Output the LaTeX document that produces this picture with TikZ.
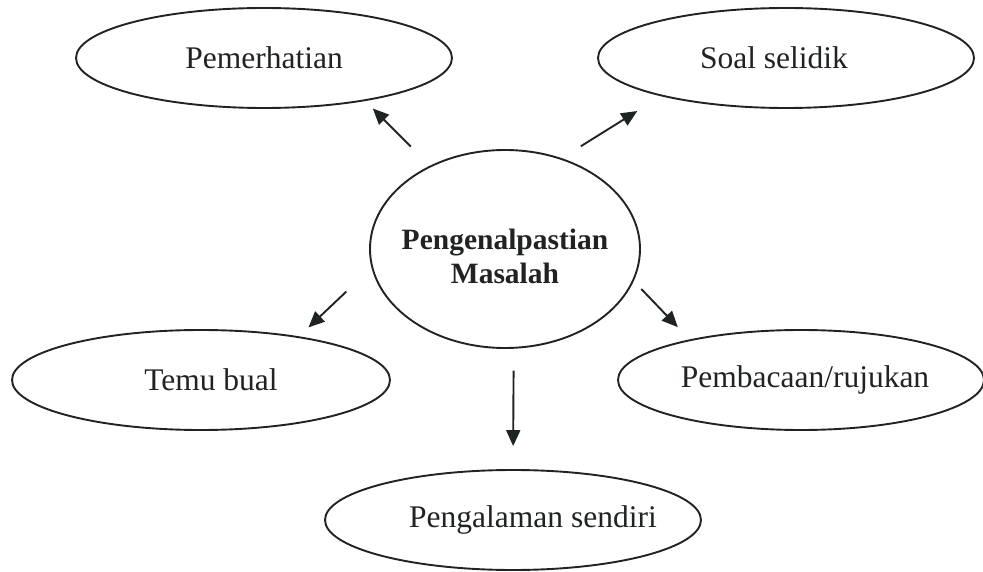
\documentclass[tikz,border=0pt]{standalone}
\usepackage{fontspec}
\setmainfont{Liberation Serif}
\usepackage{tikz}
\usepackage{xcolor}
\definecolor{inkgrey}{rgb}{0.12,0.14,0.13}
\usetikzlibrary{arrows.meta,shapes.geometric,positioning}
\tikzset{
	bubble/.style={ellipse,draw=inkgrey,text=inkgrey,line width=1.9pt,inner sep=0pt,minimum width=376pt,minimum height=100pt,font=\fontsize{31.5}{36}\selectfont},
	pointer/.style={-{Triangle[length=16pt,width=14pt]},draw=inkgrey,line width=1.9pt}
}

\begin{document}
\begin{tikzpicture}[x=1pt,y=-1pt]
	\useasboundingbox (0,0) rectangle (983,572);
	\coordinate[] (pc) at (505,249);
	\coordinate[] (p1) at (264,58);
	\coordinate[] (p2) at (786,58);
	\coordinate[] (p3) at (201,380);
	\coordinate[] (p4) at (801,380);
	\coordinate[] (p5) at (513,520);
	
	\node (centre) at (pc)[bubble,minimum width=270pt,minimum height=198pt,font=\fontsize{29.5}{34}\selectfont\bfseries]{\makebox[0pt]{\raisebox{0pt}[\dimexpr\height+22pt\relax][\depth]{\begin{tabular}{@{}c@{}}Pengenalpastian\\Masalah\end{tabular}}}};
	\node (pem) at (p1)[bubble]{Pemerhatian};
	\node (soal) at (p2)[bubble]{\makebox[0pt]{Soal selidik\hspace{24pt}}};
	\node (temu) at (p3)[bubble,minimum width=378pt]{\makebox[0pt]{\hspace{20pt}Temu bual}};
	\node (baca) at (p4)[bubble,minimum width=366pt]{\makebox[0pt]{\hspace{8pt}Pembacaan/rujukan}};
	\node (alami) at (p5)[bubble,minimum width=376pt]{\makebox[0pt]{\hspace{40pt}Pengalaman sendiri}};
	
	\draw[pointer,shorten <=27pt,shorten >=10.6pt](centre.132.8)--(pem.-23.3);
	\draw[pointer,shorten <=22.5pt,shorten >=28pt](centre.58.2)--(soal.-163);
	\draw[pointer,shorten <=34.5pt,shorten >=13pt](centre.-172.6)--(temu.24);
	\draw[pointer,shorten <=11pt,shorten >=17pt](centre.-14.7)--(baca.160);
	\draw[pointer,shorten <=22pt,shorten >=23pt](centre.-85.4)--(alami.north);
\end{tikzpicture}
\end{document}
